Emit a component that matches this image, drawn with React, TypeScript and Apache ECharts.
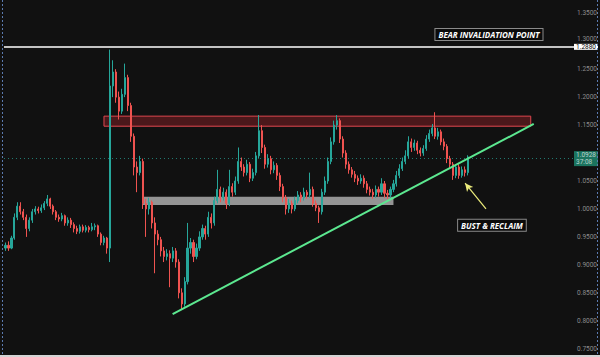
import React, { useEffect, useRef } from "react";
import * as echarts from "echarts";

// ---- data ----
const firstOpen = 0.93;
const closes = [
  0.935, 0.93, 0.948, 0.985, 1.005, 0.995, 0.985, 0.965, 0.98, 0.995,
  1.0, 0.997, 1.002, 1.01, 1.018, 1.005, 0.995, 0.985, 0.982, 0.988,
  0.975, 0.98, 0.972, 0.965, 0.96, 0.968, 0.962, 0.967, 0.963, 0.968,
  0.97, 0.955, 0.94, 0.948, 0.93, 1.22, 1.245, 1.2, 1.175, 1.205,
  1.235, 1.185, 1.13, 1.075, 1.065, 1.085, 1.01, 1.0, 1.012, 0.975,
  0.955, 0.945, 0.925, 0.915, 0.92, 0.912, 0.925, 0.905, 0.85, 0.83,
  0.87, 0.93, 0.94, 0.915, 0.93, 0.95, 0.965, 0.955, 0.985, 0.975,
  1.015, 1.035, 1.02, 1.03, 1.01, 1.04, 1.03, 1.05, 1.085, 1.075,
  1.065, 1.08, 1.055, 1.065, 1.095, 1.14, 1.11, 1.08, 1.09, 1.07,
  1.078, 1.06, 1.04, 1.02, 1.0, 1.01, 1.0, 1.015, 1.025, 1.02,
  1.03, 1.025, 1.035, 1.01, 1.002, 0.995, 1.03, 1.05, 1.085, 1.12,
  1.15, 1.158, 1.125, 1.1, 1.08, 1.07, 1.062, 1.055, 1.05, 1.055,
  1.045, 1.035, 1.03, 1.025, 1.035, 1.03, 1.045, 1.028, 1.025, 1.035,
  1.045, 1.06, 1.072, 1.085, 1.095, 1.12, 1.11, 1.118, 1.105, 1.1,
  1.108, 1.125, 1.135, 1.145, 1.13, 1.138, 1.12, 1.112, 1.09, 1.08,
  1.06, 1.075, 1.06, 1.07, 1.065, 1.093,
];
const lows = [
  0.925, 0.925, 0.928, 0.945, 0.98, 0.99, 0.98, 0.95, 0.96, 0.975,
  0.99, 0.992, 0.993, 0.998, 1.005, 1.0, 0.99, 0.98, 0.977, 0.978,
  0.97, 0.97, 0.966, 0.958, 0.955, 0.956, 0.958, 0.958, 0.958, 0.96,
  0.962, 0.95, 0.935, 0.935, 0.92, 0.905, 1.2, 1.19, 1.16, 1.17,
  1.2, 1.175, 1.12, 1.06, 1.03, 1.06, 1.0, 0.95, 0.99, 0.965,
  0.885, 0.935, 0.915, 0.905, 0.908, 0.86, 0.905, 0.895, 0.84, 0.82,
  0.825, 0.865, 0.92, 0.905, 0.91, 0.925, 0.945, 0.945, 0.95, 0.965,
  0.97, 1.01, 1.012, 1.015, 1.0, 1.005, 1.022, 1.025, 1.045, 1.068,
  1.058, 1.06, 1.048, 1.05, 1.06, 1.09, 1.1, 1.072, 1.074, 1.062,
  1.064, 1.052, 1.032, 1.012, 0.99, 0.993, 0.992, 0.996, 1.01, 1.012,
  1.015, 1.018, 1.02, 1.004, 0.996, 0.975, 0.99, 1.025, 1.045, 1.08,
  1.115, 1.142, 1.118, 1.092, 1.072, 1.063, 1.056, 1.048, 1.043, 1.045,
  1.038, 1.028, 1.024, 1.018, 1.02, 1.022, 1.025, 1.02, 1.018, 1.02,
  1.03, 1.04, 1.055, 1.068, 1.08, 1.09, 1.102, 1.104, 1.098, 1.094,
  1.095, 1.104, 1.12, 1.13, 1.125, 1.124, 1.114, 1.105, 1.082, 1.072,
  1.052, 1.055, 1.054, 1.056, 1.058, 1.06,
];
const highs = [
  0.94, 0.942, 0.952, 0.992, 1.012, 1.012, 1.0, 0.99, 0.985, 1.0,
  1.005, 1.004, 1.008, 1.014, 1.025, 1.02, 1.008, 0.998, 0.99, 0.993,
  0.99, 0.985, 0.984, 0.976, 0.97, 0.972, 0.972, 0.971, 0.97, 0.975,
  0.974, 0.972, 0.958, 0.952, 0.95, 1.285, 1.266, 1.25, 1.21, 1.215,
  1.26, 1.24, 1.19, 1.135, 1.085, 1.095, 1.09, 1.018, 1.02, 1.015,
  0.985, 0.962, 0.95, 0.932, 0.928, 0.926, 0.932, 0.93, 0.91, 0.858,
  0.878, 0.975, 0.948, 0.945, 0.938, 0.96, 0.972, 0.97, 0.995, 0.992,
  1.022, 1.07, 1.04, 1.038, 1.035, 1.07, 1.046, 1.058, 1.11, 1.092,
  1.08, 1.088, 1.084, 1.072, 1.102, 1.168, 1.15, 1.115, 1.098, 1.095,
  1.085, 1.082, 1.065, 1.045, 1.025, 1.018, 1.015, 1.022, 1.032, 1.03,
  1.038, 1.034, 1.065, 1.04, 1.015, 1.006, 1.036, 1.058, 1.092, 1.128,
  1.158, 1.168, 1.162, 1.13, 1.105, 1.085, 1.075, 1.068, 1.06, 1.062,
  1.06, 1.05, 1.04, 1.036, 1.042, 1.04, 1.055, 1.05, 1.034, 1.04,
  1.052, 1.068, 1.08, 1.092, 1.105, 1.13, 1.126, 1.124, 1.122, 1.11,
  1.114, 1.132, 1.142, 1.152, 1.173, 1.145, 1.142, 1.126, 1.116, 1.095,
  1.084, 1.08, 1.08, 1.076, 1.076, 1.096,
];
const slotCount = 191;
const yTicks = { min: 0.75, max: 1.35, step: 0.05 };
const hiddenTick = 1.1; // covered by the last-price tag
const raisedTick = 1.3; // sits just above the invalidation tag
const invalidationLevel = 1.288;
const lastPrice = 1.0928;
const countdown = "37:08";
const resistanceZone = { from: "33", to: "176", top: 1.166, bottom: 1.148 };
const supportZone = { from: "46", to: "130", top: 1.022, bottom: 1.007 };
const trendLine = { from: ["56", 0.812], to: ["177", 1.152] };
const arrow = { from: ["161", 1.0], to: ["154", 1.046] };
const bearNote = { at: ["162", 1.312], text: "BEAR INVALIDATION POINT" };
const bustNote = { at: ["163", 0.971], text: "BUST & RECLAIM" };

const categories = Array.from({ length: slotCount }, (_, i) => String(i));
const opens = [firstOpen, ...closes.slice(0, -1)];
const ohlc = closes.map((c, i) => [opens[i], c, lows[i], highs[i]]);

const UP = "#26a69a";
const DOWN = "#ef5350";

const noteLabel = (text: string) => ({
  show: true,
  position: "inside",
  formatter: text,
  color: "#ffffff",
  fontSize: 8,
  fontWeight: "bold",
  fontStyle: "italic",
  fontFamily: "Open Sans",
  backgroundColor: "#0b0b0b",
  borderColor: "#8a8a8a",
  borderWidth: 1,
  padding: [2, 3, 1, 3],
});

export default function App() {
  const ref = useRef<HTMLDivElement>(null);
  useEffect(() => {
    if (!ref.current) return;
    const chart = echarts.init(ref.current, null, { renderer: "svg" });
    chart.setOption({
      animation: false,
      backgroundColor: "#111111",
      grid: { left: 4, right: 24, top: 13.3, bottom: 8.3 },
      xAxis: {
        type: "category",
        data: categories,
        show: false,
        boundaryGap: true,
      },
      yAxis: {
        type: "value",
        position: "right",
        min: yTicks.min,
        max: yTicks.max,
        interval: yTicks.step,
        splitLine: { show: false },
        axisLine: { show: false },
        axisTick: { show: false },
        axisLabel: {
          color: "#8c8c8c",
          fontSize: 6.5,
          lineHeight: 6,
          margin: 3,
          fontFamily: "Roboto",
          formatter: (v: number) => {
            if (Math.abs(v - hiddenTick) < 1e-6) return "";
            if (Math.abs(v - raisedTick) < 1e-6) return "{up|" + v.toFixed(4) + "}";
            return v.toFixed(4);
          },
          rich: {
            up: {
              color: "#8c8c8c",
              fontSize: 6.5,
              lineHeight: 6,
              fontFamily: "Roboto",
              padding: [0, 0, 4, 0],
            },
          },
        },
      },
      series: [
        {
          type: "candlestick",
          data: ohlc,
          barWidth: 1.6,
          itemStyle: {
            color: UP,
            color0: DOWN,
            borderColor: UP,
            borderColor0: DOWN,
            borderWidth: 1,
          },
          markArea: {
            silent: true,
            data: [
              [
                {
                  xAxis: resistanceZone.from,
                  yAxis: resistanceZone.top,
                  itemStyle: {
                    color: "rgba(200,40,50,0.32)",
                    borderColor: "#e0474f",
                    borderWidth: 1,
                  },
                },
                { xAxis: resistanceZone.to, yAxis: resistanceZone.bottom },
              ],
              [
                {
                  xAxis: supportZone.from,
                  yAxis: supportZone.top,
                  itemStyle: { color: "rgba(200,200,200,0.72)", borderWidth: 0 },
                },
                { xAxis: supportZone.to, yAxis: supportZone.bottom },
              ],
            ],
          },
          markLine: {
            silent: true,
            symbol: ["none", "none"],
            data: [
              {
                yAxis: invalidationLevel,
                lineStyle: { color: "#ffffff", width: 1.5, type: "solid" },
                label: {
                  show: true,
                  position: "end",
                  distance: 0,
                  formatter: invalidationLevel.toFixed(4),
                  backgroundColor: "#ffffff",
                  color: "#000000",
                  fontSize: 6.5,
                  lineHeight: 6,
                  fontFamily: "Roboto",
                  padding: [0, 2],
                },
              },
              {
                yAxis: lastPrice,
                lineStyle: { color: UP, width: 1, type: [1, 3], opacity: 0.7 },
                label: {
                  show: true,
                  position: "end",
                  distance: 0,
                  formatter: lastPrice.toFixed(4) + "\n" + countdown,
                  backgroundColor: "#1f9e80",
                  color: "#ffffff",
                  fontSize: 6.5,
                  lineHeight: 6.5,
                  fontFamily: "Roboto",
                  padding: [1, 2],
                },
              },
              [
                {
                  coord: trendLine.from,
                  lineStyle: { color: "#5ce890", width: 2, type: "solid" },
                  label: { show: false },
                },
                { coord: trendLine.to },
              ],
              [
                {
                  coord: arrow.from,
                  symbol: "none",
                  lineStyle: { color: "#ecec7c", width: 1.2, type: "solid" },
                  label: { show: false },
                },
                { coord: arrow.to, symbol: "arrow", symbolSize: [6, 8] },
              ],
            ],
          },
          markPoint: {
            silent: true,
            symbol: "rect",
            symbolSize: 1,
            itemStyle: { color: "rgba(0,0,0,0)" },
            data: [
              { coord: bearNote.at, label: noteLabel(bearNote.text) },
              { coord: bustNote.at, label: noteLabel(bustNote.text) },
            ],
          },
        },
      ],
      graphic: [
        {
          type: "line",
          shape: { x1: 2.5, y1: 0, x2: 2.5, y2: 355 },
          style: { stroke: "#5b7bb0", lineWidth: 1, lineDash: [2, 2] },
          z: 100,
        },
        {
          type: "line",
          shape: { x1: 597.5, y1: 0, x2: 597.5, y2: 355 },
          style: { stroke: "#5b7bb0", lineWidth: 1, lineDash: [2, 2] },
          z: 100,
        },
        {
          type: "rect",
          shape: { x: 0, y: 355, width: 600, height: 2 },
          style: { fill: "#d4d4d4" },
          z: 100,
        },
      ],
    });
    return () => chart.dispose();
  }, []);
  return (
    <div
      ref={ref}
      style={{ position: "absolute", left: 0, top: 0, width: 600, height: 357 }}
    />
  );
}
